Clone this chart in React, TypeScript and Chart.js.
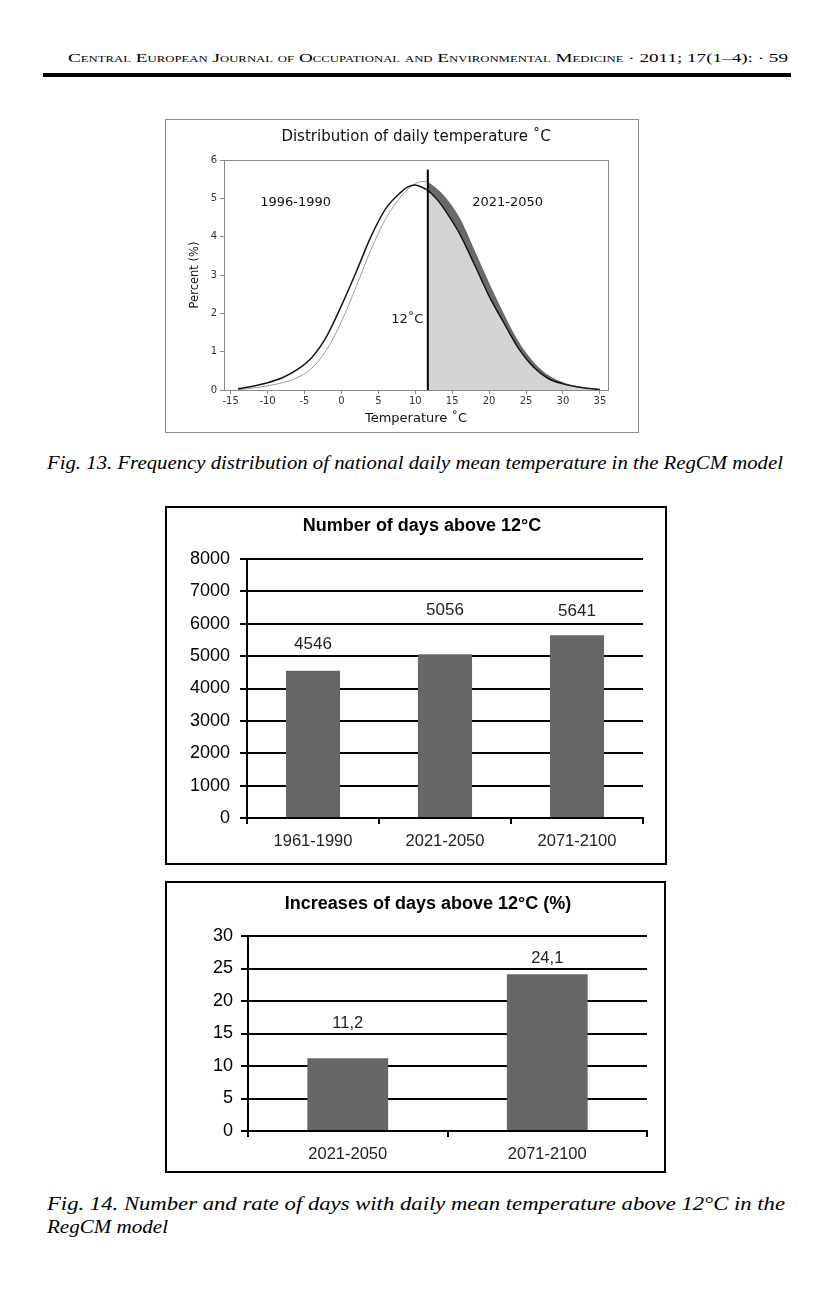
import React, { useEffect, useRef } from "react";
import { Chart, registerables } from "chart.js";

Chart.register(...registerables);

// ---------- Fig. 13 data ----------
const tempPoints = [-14, -12, -10, -8, -6, -4, -2, 0, 2, 4, 6, 8, 9, 10, 11, 11.7, 13, 14, 16, 18, 20, 22, 24, 26, 28, 30, 32, 34, 35];
const pctBaseline = [0.03, 0.1, 0.19, 0.32, 0.53, 0.85, 1.4, 2.2, 3.08, 4.0, 4.73, 5.15, 5.3, 5.35, 5.28, 5.21, 4.96, 4.7, 4.08, 3.28, 2.45, 1.75, 1.08, 0.6, 0.3, 0.16, 0.08, 0.03, 0.01];
const pctFuture = [0.01, 0.05, 0.11, 0.19, 0.32, 0.57, 1.05, 1.78, 2.7, 3.66, 4.47, 5.03, 5.24, 5.38, 5.44, 5.43, 5.24, 5.05, 4.5, 3.66, 2.8, 1.99, 1.26, 0.74, 0.39, 0.2, 0.1, 0.04, 0.02];
const thresholdTemp = 11.7;
const thresholdTop = 5.75;
const tempTicks = [-15, -10, -5, 0, 5, 10, 15, 20, 25, 30, 35];
const pctTicks = [0, 1, 2, 3, 4, 5, 6];

// ---------- Fig. 14 data ----------
const periodsAll = ["1961-1990", "2021-2050", "2071-2100"];
const daysAbove12 = [4546, 5056, 5641];
const dayTicks = [0, 1000, 2000, 3000, 4000, 5000, 6000, 7000, 8000];

const periodsFuture = ["2021-2050", "2071-2100"];
const increasePct = [11.2, 24.1];
const increaseTicks = [0, 5, 10, 15, 20, 25, 30];

// label lifts above bars (style only)
const daysLabelLift = [27, 44, 24];
const increaseLabelLift = [35, 16];

const DV = "DejaVu Sans";
const LS = "Liberation Sans";

function distributionConfig(): any {
  const pts = (ys: number[]) => tempPoints.map((x, i) => ({ x, y: ys[i] }));
  const right = (ys: number[]) => pts(ys).filter((p) => p.x >= thresholdTemp);
  const left = (ys: number[]) => pts(ys).filter((p) => p.x <= thresholdTemp);

  const annotations = [
    { text: "1996-1990", x: -6.2, y: 4.9, align: "center" },
    { text: "2021-2050", x: 22.5, y: 4.9, align: "center" },
    { text: "12˚C", x: 11.1, y: 1.84, align: "right" },
  ];

  const boxAndText = {
    id: "boxAndText",
    afterDatasetsDraw(chart: any) {
      const { ctx, chartArea, scales } = chart;
      ctx.save();
      ctx.strokeStyle = "#8a8a8a";
      ctx.lineWidth = 1;
      ctx.strokeRect(chartArea.left + 0.5, chartArea.top + 0.5, chartArea.right - chartArea.left, chartArea.bottom - chartArea.top);
      ctx.fillStyle = "#111";
      ctx.font = `13px "${DV}"`;
      ctx.textBaseline = "middle";
      annotations.forEach((a) => {
        ctx.textAlign = a.align;
        ctx.fillText(a.text, scales.x.getPixelForValue(a.x), scales.y.getPixelForValue(a.y));
      });
      ctx.restore();
    },
  };

  return {
    type: "line",
    data: {
      datasets: [
        { data: right(pctFuture), fill: "origin", backgroundColor: "#6a6a6a", borderWidth: 0, pointRadius: 0, order: 5, cubicInterpolationMode: "monotone" },
        { data: right(pctBaseline), fill: "origin", backgroundColor: "#d4d4d4", borderWidth: 0, pointRadius: 0, order: 4, cubicInterpolationMode: "monotone" },
        { data: left(pctFuture), fill: false, borderColor: "#9a9a9a", borderWidth: 1, pointRadius: 0, order: 3, cubicInterpolationMode: "monotone" },
        { data: pts(pctBaseline), fill: false, borderColor: "#161616", borderWidth: 1.5, pointRadius: 0, order: 2, cubicInterpolationMode: "monotone" },
        { data: [{ x: thresholdTemp, y: 0 }, { x: thresholdTemp, y: thresholdTop }], fill: false, borderColor: "#000", borderWidth: 2, pointRadius: 0, order: 1, tension: 0 },
      ],
    },
    options: {
      animation: false,
      responsive: false,
      devicePixelRatio: 1,
      layout: { padding: { left: 0, right: 30, top: 0, bottom: 0 } },
      plugins: {
        legend: { display: false },
        tooltip: { enabled: false },
        title: {
          display: true,
          fullSize: false,
          text: "Distribution of daily temperature ˚C",
          color: "#111",
          font: { family: DV, size: 15, weight: "normal" },
          padding: { top: 8, bottom: 14 },
        },
      },
      scales: {
        x: {
          type: "linear",
          min: -15.9,
          max: 36.1,
          afterBuildTicks: (s: any) => { s.ticks = tempTicks.map((v) => ({ value: v })); },
          afterFit: (s: any) => { s.height = 42; },
          ticks: { color: "#333", font: { family: DV, size: 10 }, padding: 1, maxRotation: 0, autoSkip: false },
          grid: { drawOnChartArea: false, drawTicks: true, tickLength: 4, color: "#8a8a8a" },
          border: { color: "#8a8a8a" },
          title: { display: true, text: "Temperature ˚C", color: "#111", font: { family: DV, size: 13 }, padding: { top: 0, bottom: 6 } },
        },
        y: {
          min: 0,
          max: 6,
          afterBuildTicks: (s: any) => { s.ticks = pctTicks.map((v) => ({ value: v })); },
          afterFit: (s: any) => { s.width = 58; },
          ticks: { color: "#333", font: { family: DV, size: 10 }, padding: 3 },
          grid: { drawOnChartArea: false, drawTicks: true, tickLength: 4, color: "#8a8a8a" },
          border: { color: "#8a8a8a" },
          title: { display: true, text: "Percent (%)", color: "#111", font: { family: DV, size: 11.5 }, padding: { top: 22, bottom: 0 } },
        },
      },
    },
    plugins: [boxAndText],
  };
}

function barConfig(p: {
  labels: string[];
  values: number[];
  ticks: number[];
  title: string;
  titleX: number;
  titleY: number;
  lifts: number[];
  fmt: (v: number) => string;
  topPad: number;
  yWidth: number;
  xHeight: number;
  rightPad: number;
  yTickPad: number;
  labelFont: number;
  barPct: number;
}): any {
  const textPlugin = {
    id: "barTexts",
    afterDatasetsDraw(chart: any) {
      const ctx = chart.ctx;
      const meta = chart.getDatasetMeta(0);
      ctx.save();
      ctx.textAlign = "center";
      ctx.textBaseline = "middle";
      ctx.fillStyle = "#000";
      ctx.font = `bold 18px "${LS}"`;
      ctx.fillText(p.title, p.titleX, p.titleY);
      ctx.fillStyle = "#222";
      ctx.font = `${p.labelFont}px "${LS}"`;
      meta.data.forEach((bar: any, i: number) => {
        ctx.fillText(p.fmt(p.values[i]), bar.x, bar.y - p.lifts[i]);
      });
      ctx.restore();
    },
  };
  return {
    type: "bar",
    data: {
      labels: p.labels,
      datasets: [{ data: p.values, backgroundColor: "#676767", borderWidth: 0, barPercentage: p.barPct, categoryPercentage: 1 }],
    },
    options: {
      animation: false,
      responsive: false,
      devicePixelRatio: 1,
      layout: { padding: { left: 0, right: p.rightPad, top: p.topPad, bottom: 0 } },
      plugins: {
        legend: { display: false },
        tooltip: { enabled: false },
        title: { display: false },
      },
      scales: {
        x: {
          afterFit: (s: any) => { s.height = p.xHeight; },
          ticks: { color: "#222", font: { family: LS, size: 16.5 }, padding: 8, maxRotation: 0 },
          grid: { drawOnChartArea: false, drawTicks: true, tickLength: 6, lineWidth: 2, color: "#000", offset: true },
          border: { color: "#000", width: 2 },
        },
        y: {
          min: 0,
          max: p.ticks[p.ticks.length - 1],
          afterBuildTicks: (s: any) => { s.ticks = p.ticks.map((v) => ({ value: v })); },
          afterFit: (s: any) => { s.width = p.yWidth; },
          ticks: { color: "#000", font: { family: LS, size: 18 }, padding: p.yTickPad, callback: (v: any) => String(v) },
          grid: { drawOnChartArea: true, drawTicks: true, tickLength: 7, lineWidth: 2, color: "#000" },
          border: { color: "#000", width: 2 },
        },
      },
    },
    plugins: [textPlugin],
  };
}

function ChartBox(props: { left: number; top: number; width: number; height: number; bw: number; bc: string; make: () => any }) {
  const ref = useRef<HTMLCanvasElement>(null);
  const cw = props.width - 2 * props.bw;
  const ch = props.height - 2 * props.bw;
  useEffect(() => {
    const chart = new Chart(ref.current as HTMLCanvasElement, props.make());
    return () => chart.destroy();
  }, []);
  return (
    <div
      style={{
        position: "absolute",
        left: props.left,
        top: props.top,
        width: props.width,
        height: props.height,
        boxSizing: "border-box",
        border: `${props.bw}px solid ${props.bc}`,
        background: "#fff",
      }}
    >
      <canvas ref={ref} width={cw} height={ch} style={{ display: "block", width: cw, height: ch }} />
    </div>
  );
}

export default function App() {
  const serif = "'Liberation Serif', 'Times New Roman', serif";
  return (
    <div style={{ position: "absolute", left: 0, top: 0, width: 834, height: 1294, background: "#fff", overflow: "hidden" }}>
      <svg width={834} height={1294} style={{ position: "absolute", left: 0, top: 0 }}>
        <text x={68} y={62} textLength={720} lengthAdjust="spacingAndGlyphs" style={{ fontFamily: serif, fontSize: 13.5, fontVariant: "small-caps" }} fill="#000">
          Central European Journal of Occupational and Environmental Medicine · 2011; 17(1–4): · 59
        </text>
        <rect x={43} y={73} width={748} height={4} fill="#000" />
        <text x={47} y={469} textLength={736} lengthAdjust="spacingAndGlyphs" style={{ fontFamily: serif, fontSize: 19, fontStyle: "italic" }} fill="#000">
          Fig. 13. Frequency distribution of national daily mean temperature in the RegCM model
        </text>
        <text x={47} y={1210} textLength={738} lengthAdjust="spacingAndGlyphs" style={{ fontFamily: serif, fontSize: 19, fontStyle: "italic" }} fill="#000">
          Fig. 14. Number and rate of days with daily mean temperature above 12°C in the
        </text>
        <text x={47} y={1233} textLength={121} lengthAdjust="spacingAndGlyphs" style={{ fontFamily: serif, fontSize: 19, fontStyle: "italic" }} fill="#000">
          RegCM model
        </text>
      </svg>

      <ChartBox left={165} top={119} width={474} height={314} bw={1} bc="#8a8a8a" make={distributionConfig} />

      <ChartBox
        left={165}
        top={506}
        width={502}
        height={359}
        bw={2}
        bc="#000"
        make={() =>
          barConfig({
            labels: periodsAll,
            values: daysAbove12,
            ticks: dayTicks,
            title: "Number of days above 12°C",
            titleX: 255,
            titleY: 18,
            lifts: daysLabelLift,
            fmt: (v) => String(v),
            topPad: 51,
            yWidth: 80,
            xHeight: 45,
            rightPad: 22,
            yTickPad: 10,
            labelFont: 17,
            barPct: 0.41,
          })
        }
      />

      <ChartBox
        left={165}
        top={881}
        width={501}
        height={292}
        bw={2}
        bc="#000"
        make={() =>
          barConfig({
            labels: periodsFuture,
            values: increasePct,
            ticks: increaseTicks,
            title: "Increases of days above 12°C (%)",
            titleX: 261,
            titleY: 21,
            lifts: increaseLabelLift,
            fmt: (v) => String(v).replace(".", ","),
            topPad: 53,
            yWidth: 81,
            xHeight: 40,
            rightPad: 17,
            yTickPad: 8,
            labelFont: 16.5,
            barPct: 0.405,
          })
        }
      />
    </div>
  );
}
